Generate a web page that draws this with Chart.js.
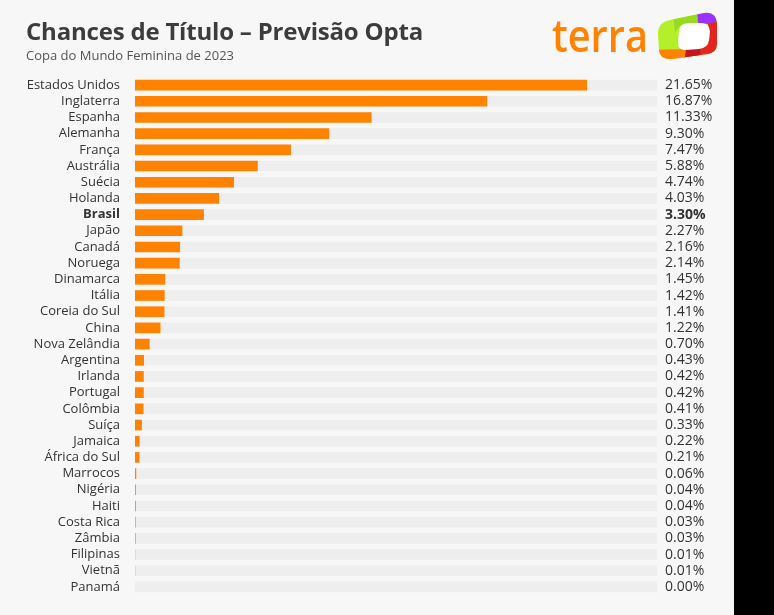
<!DOCTYPE html>
<html lang="pt-BR">
<head>
<meta charset="utf-8">
<title>Chances de Título – Previsão Opta</title>
<script src="https://cdn.jsdelivr.net/npm/chart.js@4.4.1/dist/chart.umd.min.js"></script>
<style>
    body { margin: 0; background: #000; }
    #quadro {
        position: relative;
        width: 734px;
        height: 615px;
        background: #f7f7f7;
        font-family: "Open Sans", sans-serif;
        overflow: hidden;
    }
    #titulo {
        position: absolute; left: 26px; top: 14px;
        font-size: 24px; font-weight: 700; color: #3c3c3c;
        letter-spacing: -0.2px;
        white-space: nowrap;
    }
    #subtitulo {
        position: absolute; left: 26px; top: 46px;
        font-size: 13px; color: #555;
    }
    #logo { position: absolute; left: 548px; top: 8px; }
    #grafico-container { position: absolute; left: 0; top: 0; width: 734px; height: 615px; }
</style>
</head>
<body>
<div id="quadro">
    <div id="grafico-container"><canvas id="graficoChances" width="734" height="615"></canvas></div>
    <div id="titulo">Chances de Título – Previsão Opta</div>
    <div id="subtitulo">Copa do Mundo Feminina de 2023</div>
    <svg id="logo" width="180" height="56" viewBox="0 0 180 56">
        <text x="4" y="44" font-family="'Open Sans', sans-serif" font-weight="600" font-size="45" fill="#ff8200" textLength="96" lengthAdjust="spacingAndGlyphs">terra</text>
        <defs>
            <clipPath id="moldura">
                <path d="M110 26 Q110 14 122 12 L156 5 Q168 3 169 16 L169 36 Q169 44 160 46 L124 51 Q112 52 111 42 Z"/>
            </clipPath>
        </defs>
        <g clip-path="url(#moldura)">
            <rect x="100" y="0" width="80" height="56" fill="#b4f02a"/>
            <polygon points="124,0 150,0 150,15 132,18 127,24" fill="#97dc1c"/>
            <polygon points="160,14 180,10 180,56 136,56 140,42 152,40 161,30" fill="#e2261f"/>
            <polygon points="149,0 180,0 180,10 160,16 150,15" fill="#9a33ff"/>
            <polygon points="138,40 153,38 150,56 134,56" fill="#c4161c"/>
            <polygon points="100,42 138,41 136,56 100,56" fill="#ff8200"/>
        </g>
        <path d="M131 22 Q132 16 140 15 L154 15 Q162 16 162 24 L161 32 Q160 40 151 41 L137 42 Q130 42 130 35 Z" fill="#fff"/>
    </svg>
</div>

<script>
// Dados
const paises = [
    'Estados Unidos', 'Inglaterra', 'Espanha', 'Alemanha', 'França', 'Austrália',
    'Suécia', 'Holanda', 'Brasil', 'Japão', 'Canadá', 'Noruega', 'Dinamarca',
    'Itália', 'Coreia do Sul', 'China', 'Nova Zelândia', 'Argentina', 'Irlanda',
    'Portugal', 'Colômbia', 'Suíça', 'Jamaica', 'África do Sul', 'Marrocos',
    'Nigéria', 'Haiti', 'Costa Rica', 'Zâmbia', 'Filipinas', 'Vietnã', 'Panamá'
];

const chances = [
    21.65, 16.87, 11.33, 9.30, 7.47, 5.88, 4.74, 4.03, 3.30, 2.27, 2.16, 2.14, 1.45,
    1.42, 1.41, 1.22, 0.70, 0.43, 0.42, 0.42, 0.41, 0.33, 0.22, 0.21, 0.06,
    0.04, 0.04, 0.03, 0.03, 0.01, 0.01, 0.00
];

// Rótulos da direita (valores formatados)
const rotulosValores = chances.map(v => v.toFixed(2) + '%');

// Fundo cinza de cada linha vai até o fim da escala
const escalaMax = 25;
const trilha = paises.map(() => escalaMax);

const destaque = 'Brasil';

/* ------------------------------------------------------------------ */

function fonteRotulo(tamanho) {
    return ctx => {
        const negrito = paises[ctx.index] === destaque;
        return { family: '"Open Sans", sans-serif', size: tamanho, weight: negrito ? 'bold' : 'normal' };
    };
}

// Fixa a largura do eixo e tira o respiro vertical que o Chart.js adiciona
function ajustarEixo(largura) {
    return s => {
        s.width = largura;
        s.paddingTop = 0;
        s.paddingBottom = 0;
    };
}

new Chart(document.getElementById('graficoChances'), {
    type: 'bar',
    data: {
        labels: paises,
        datasets: [
            {
                label: 'Chance',
                data: chances,
                backgroundColor: '#ff8200',
                barPercentage: 0.66,
                categoryPercentage: 1,
                grouped: false,
                order: 0
            },
            {
                label: 'Trilha',
                data: trilha,
                backgroundColor: '#eeeeee',
                barPercentage: 0.66,
                categoryPercentage: 1,
                grouped: false,
                order: 1
            }
        ]
    },
    options: {
        indexAxis: 'y',
        responsive: false,
        animation: false,
        layout: { padding: { top: 77, bottom: 20, left: 0, right: 0 } },
        scales: {
            x: {
                min: 0,
                max: escalaMax,
                display: false
            },
            y: {
                position: 'left',
                grid: { display: false, drawTicks: false },
                border: { display: false },
                afterFit: ajustarEixo(135),
                ticks: {
                    padding: 15,
                    color: '#333',
                    font: fonteRotulo(13),
                    autoSkip: false
                }
            },
            y2: {
                type: 'category',
                position: 'right',
                labels: rotulosValores,
                offset: true,
                grid: { display: false, drawTicks: false },
                border: { display: false },
                afterFit: ajustarEixo(77),
                ticks: {
                    padding: 8,
                    color: '#333',
                    font: fonteRotulo(14),
                    autoSkip: false
                }
            }
        },
        plugins: {
            legend: { display: false },
            tooltip: { enabled: false }
        }
    }
});
</script>
</body>
</html>
